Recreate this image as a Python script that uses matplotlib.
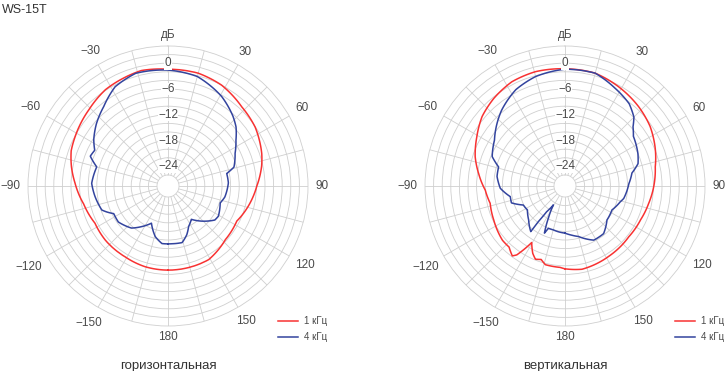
import numpy as np
import matplotlib.pyplot as plt

plt.rcParams['font.family'] = ['Liberation Sans', 'DejaVu Sans']

# horizontal plane, 1 kHz
h1k_ang = [-180, -164, -149, -131, -117, -102, -88, -79, -70, -62, -46, -33, -22, -13,
           0, 15, 28, 43, 56, 71, 78, 90, 104, 117, 133, 151, 168, 180]
h1k_db = [-9.0, -9.05, -9.3, -9.3, -9.5, -8.5, -6.9, -5.7, -4.6, -4.1, -3.0, -1.85, -1.4, -1.0,
          -1.4, -1.4, -2.0, -3.4, -4.1, -5.5, -6.3, -7.9, -9.3, -10.6, -10.3, -9.0, -9.0, -9.0]

# horizontal plane, 4 kHz
h4k_ang = [-180, -174, -166, -156, -147, -139, -126, -117, -113, -110, -98, -88, -75, -69,
           -64, -58, -49, -39, -28, -16, 0, 15, 31, 43, 49, 56, 64, 74, 78, 87, 101, 108,
           121, 126, 136, 145, 153, 159, 166, 176, 180]
h4k_db = [-15.1, -15.1, -16.4, -19.1, -17.3, -15.6, -14.3, -14.4, -13.1, -12.2, -11.4, -10.8,
          -11.4, -9.2, -9.6, -8.2, -6.5, -4.8, -2.4, -1.3, -1.6, -2.2, -4.3, -6.4, -7.6, -9.5,
          -11.2, -12.6, -14.6, -14.5, -15.1, -15.8, -14.9, -15.1, -17.2, -19.1, -18.0, -16.4,
          -15.0, -15.1, -15.1]

# vertical plane, 1 kHz
v1k_ang = [-180, -176.5, -166, -162, -158, -154.4, -149.5, -146.9, -145, -143, -141, -137.5,
           -131, -115.5, -103, -93, -82, -72, -61, -50, -39, -27, -14.5, 0, 15, 28, 43, 55,
           68, 78, 90, 102, 114, 128.5, 148, 168.5, 180]
v1k_db = [-9.3, -9.6, -9.7, -10.6, -10.2, -11.2, -13.3, -10.8, -9.0, -8.2, -8.6, -9.3,
          -9.3, -10.2, -10.7, -10.0, -8.3, -6.6, -5.1, -3.4, -2.3, -1.35, -1.1, -1.3, -1.4,
          -2.3, -3.4, -4.4, -5.9, -7.1, -7.9, -8.7, -9.3, -9.6, -9.3, -8.8, -9.3]

# vertical plane, 4 kHz
v4k_ang = [-180, -172, -165, -158.5, -156.4, -152.7, -148.4, -144.5, -143.2, -143.1, -133,
           -122.5, -114.5, -107.5, -101, -92, -82, -74, -68, -57, -51, -40, -27, -15, 0,
           15, 27, 38, 45, 49, 54, 66, 73, 79, 88, 102, 106, 117, 129, 141, 152, 165, 172, 180]
v4k_db = [-17.6, -17.8, -18.0, -18.0, -16.6, -20.1, -23.4, -21.2, -18.2, -15.3, -17.0,
          -18.2, -17.9, -15.5, -15.6, -13.5, -12.6, -12.5, -10.3, -9.0, -7.8, -5.6, -3.4, -2.2,
          -1.4, -1.4, -3.0, -4.3, -5.9, -7.6, -8.9, -10.0, -10.8, -12.7, -13.7, -14.6, -15.2,
          -16.3, -16.0, -14.3, -14.3, -16.4, -17.0, -17.6]

angle_labels = {0: 'дБ', 30: '30', 60: '60', 90: '90', 120: '120', 150: '150', 180: '180',
                210: '−150', 240: '−120', 270: '−90', 300: '−60', 330: '−30'}
db_labels = [0, -6, -12, -18, -24]

red = '#f83232'
blue = '#33449e'
grid_c = '#cfcfcf'
text_c = '#4a4a4a'

R_MIN, R_MAX, R_ORIG = -26, 4, -28.56
RAD_PX = 140.0
PX_PER_DB = RAD_PX / (R_MAX - R_ORIG)
FS = 8.5
EM = FS * 100 / 72

fig = plt.figure(figsize=(7.25, 3.71), dpi=100)


def label_r(text, deg):
    # keep a constant gap between the label box and the outer circle
    w = sum(0.584 if c == '−' else 0.6 for c in text) * EM
    h = 0.72 * EM
    t = np.deg2rad(deg)
    ext = w / 2 * abs(np.sin(t)) + h / 2 * abs(np.cos(t))
    px = RAD_PX + 7 + ext
    return R_ORIG + px / PX_PER_DB


def polar_panel(rect, ang1, db1, ang4, db4, title):
    ax = fig.add_axes(rect, projection='polar')
    ax.set_theta_zero_location('N')
    ax.set_theta_direction(-1)
    ax.set_ylim(R_MIN, R_MAX)
    ax.set_rorigin(R_ORIG)
    ax.set_thetagrids(np.arange(0, 360, 15), labels=[''] * 24)
    ax.set_rgrids(np.arange(-24, 4, 2), labels=[''] * 14)
    ax.grid(True, color=grid_c, linewidth=0.6)
    for s in ax.spines.values():
        s.set_color(grid_c)
        s.set_linewidth(0.6)
    ax.tick_params(length=0)

    l1, = ax.plot(np.deg2rad(ang1), db1, color=red, lw=1.1, label='1 кГц')
    l4, = ax.plot(np.deg2rad(ang4), db4, color=blue, lw=1.1, label='4 кГц')
    # draw segments as arcs in polar space instead of straight chords
    for ln in (l1, l4):
        ln._path._interpolation_steps = 30

    for a, t in angle_labels.items():
        ax.text(np.deg2rad(a), label_r(t, a), t, ha='center', va='center', fontsize=FS,
                color=text_c, clip_on=False)
    for d in db_labels:
        lab = str(d).replace('-', '−')
        ax.text(0, d, lab, ha='center', va='center', fontsize=FS, color=text_c,
                bbox=dict(facecolor='white', edgecolor='none', pad=0.3), zorder=3)

    cx = rect[0] + rect[2] / 2
    fig.text(cx, 1 - 366 / 371, title, ha='center', va='center', fontsize=9.5,
             color='#333333')
    return l1, l4


h = polar_panel([28 / 725, 45 / 371, 280 / 725, 280 / 371], h1k_ang, h1k_db, h4k_ang, h4k_db,
                'горизонтальная')
v = polar_panel([425 / 725, 45 / 371, 280 / 725, 280 / 371], v1k_ang, v1k_db, v4k_ang, v4k_db,
                'вертикальная')

for lines, x0 in ((h, 278), (v, 675)):
    fig.legend(lines, [l.get_label() for l in lines], loc='upper left',
               bbox_to_anchor=(x0 / 725, 1 - 316 / 371), frameon=False, fontsize=7,
               handlelength=2.1, handletextpad=0.55, labelspacing=0.65, borderpad=0,
               borderaxespad=0, labelcolor=text_c)

fig.text(2 / 725, 1 - 4 / 371, 'WS-15T', ha='left', va='top', fontsize=9, color='#333333')

fig.savefig('out.png', dpi=100)
